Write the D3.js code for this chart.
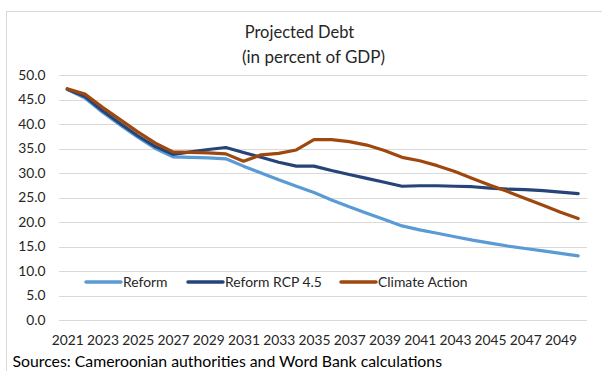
<!DOCTYPE html>
<html>
<head>
<meta charset="utf-8">
<script src="https://cdn.jsdelivr.net/npm/d3@7"></script>
<style>
  html, body { margin: 0; padding: 0; background: #fff; }
  svg { display: block; font-family: Lato, "Liberation Sans", sans-serif; }
</style>
</head>
<body>
<svg id="chart" width="602" height="371"></svg>
<script>
// Projected debt paths, percent of GDP
const years = d3.range(2021, 2051);
const tickYears = d3.range(2021, 2051, 2);
const yTicks = d3.range(0, 50.1, 5);

const reform = [47.1, 45.3, 42.4, 39.8, 37.3, 35.0, 33.3, 33.2, 33.1, 32.9,
                31.4, 30.0, 28.6, 27.3, 26.0, 24.5, 23.1, 21.8, 20.5, 19.2,
                18.4, 17.7, 17.0, 16.3, 15.7, 15.1, 14.6, 14.1, 13.6, 13.1];
const reformRcp = [47.1, 45.6, 42.7, 40.1, 37.6, 35.4, 33.8, 34.3, 34.8, 35.2,
                   34.2, 33.2, 32.2, 31.4, 31.4, 30.5, 29.7, 28.9, 28.1, 27.3,
                   27.4, 27.4, 27.3, 27.2, 26.9, 26.7, 26.6, 26.4, 26.1, 25.8];
const climateAction = [47.2, 46.1, 43.4, 40.9, 38.4, 36.1, 34.3, 34.2, 34.1, 33.9,
                       32.4, 33.7, 34.0, 34.7, 36.8, 36.8, 36.4, 35.7, 34.6, 33.2,
                       32.5, 31.5, 30.3, 28.9, 27.5, 26.2, 24.8, 23.4, 22.0, 20.7];

const seriesNames = ["Reform", "Reform RCP 4.5", "Climate Action"];
const seriesColors = ["#5B9BD5", "#264478", "#9E480E"];
const seriesValues = [reform, reformRcp, climateAction];

const svg = d3.select("#chart");
const plot = { left: 58.5, right: 587, top: 75, bottom: 320 };

// chart frame
svg.append("rect")
  .attr("x", 6.5).attr("y", 11.5)
  .attr("width", 620).attr("height", 400)
  .attr("fill", "none").attr("stroke", "#D9D9D9").attr("stroke-width", 1);

const x = d3.scalePoint().domain(years).range([plot.left, plot.right]).padding(0.5);
const y = d3.scaleLinear().domain([0, 50]).range([plot.bottom, plot.top]);

// horizontal gridlines
svg.append("g")
  .attr("transform", `translate(${plot.left},0)`)
  .call(d3.axisLeft(y).tickValues(yTicks).tickSize(-(plot.right - plot.left)).tickFormat(""))
  .call(g => g.select(".domain").remove())
  .call(g => g.selectAll("line").attr("stroke", "#D9D9D9").attr("stroke-width", 1)
    .attr("shape-rendering", "crispEdges"));

// y axis labels
svg.append("g")
  .attr("transform", "translate(45.5,0)")
  .call(d3.axisLeft(y).tickValues(yTicks).tickSize(0).tickPadding(0).tickFormat(d3.format(".1f")))
  .call(g => g.select(".domain").remove())
  .call(g => g.selectAll("text").attr("font-family", "Lato, sans-serif")
    .attr("font-size", 13.8).attr("fill", "#262626"));

// x axis labels
svg.append("g")
  .attr("transform", `translate(0,${plot.bottom})`)
  .call(d3.axisBottom(x).tickValues(tickYears).tickSize(0).tickPadding(15))
  .call(g => g.select(".domain").remove())
  .call(g => g.selectAll("text").attr("font-family", "Lato, sans-serif")
    .attr("font-size", 13.8).attr("fill", "#262626"));

// series lines
const line = d3.line().x((d, i) => x(years[i])).y(d => y(d));
svg.append("g").selectAll("path")
  .data(seriesValues)
  .join("path")
  .attr("d", d => line(d))
  .attr("fill", "none")
  .attr("stroke", (d, i) => seriesColors[i])
  .attr("stroke-width", 3.2)
  .attr("stroke-linejoin", "round")
  .attr("stroke-linecap", "round");

// title
svg.append("text").attr("x", 299.5).attr("y", 38).attr("text-anchor", "middle")
  .attr("font-size", 16.5).attr("fill", "#262626").text("Projected Debt");
svg.append("text").attr("x", 313.5).attr("y", 63).attr("text-anchor", "middle")
  .attr("font-size", 17).attr("fill", "#262626").text("(in percent of GDP)");

// legend
const legendX = [86, 188, 341];
const legend = svg.append("g").selectAll("g")
  .data(seriesNames)
  .join("g")
  .attr("transform", (d, i) => `translate(${legendX[i]},282)`);
legend.append("line")
  .attr("x1", 0).attr("x2", 35).attr("y1", 0).attr("y2", 0)
  .attr("stroke", (d, i) => seriesColors[i]).attr("stroke-width", 3.5)
  .attr("stroke-linecap", "round");
legend.append("text")
  .attr("x", 37).attr("y", 0).attr("dy", "0.35em")
  .attr("font-size", 13.9).attr("fill", "#262626")
  .text(d => d);

// source note
svg.append("text").attr("x", 12.5).attr("y", 367)
  .attr("font-size", 15.8).attr("fill", "#000")
  .text("Sources: Cameroonian authorities and Word Bank calculations");
</script>
</body>
</html>
